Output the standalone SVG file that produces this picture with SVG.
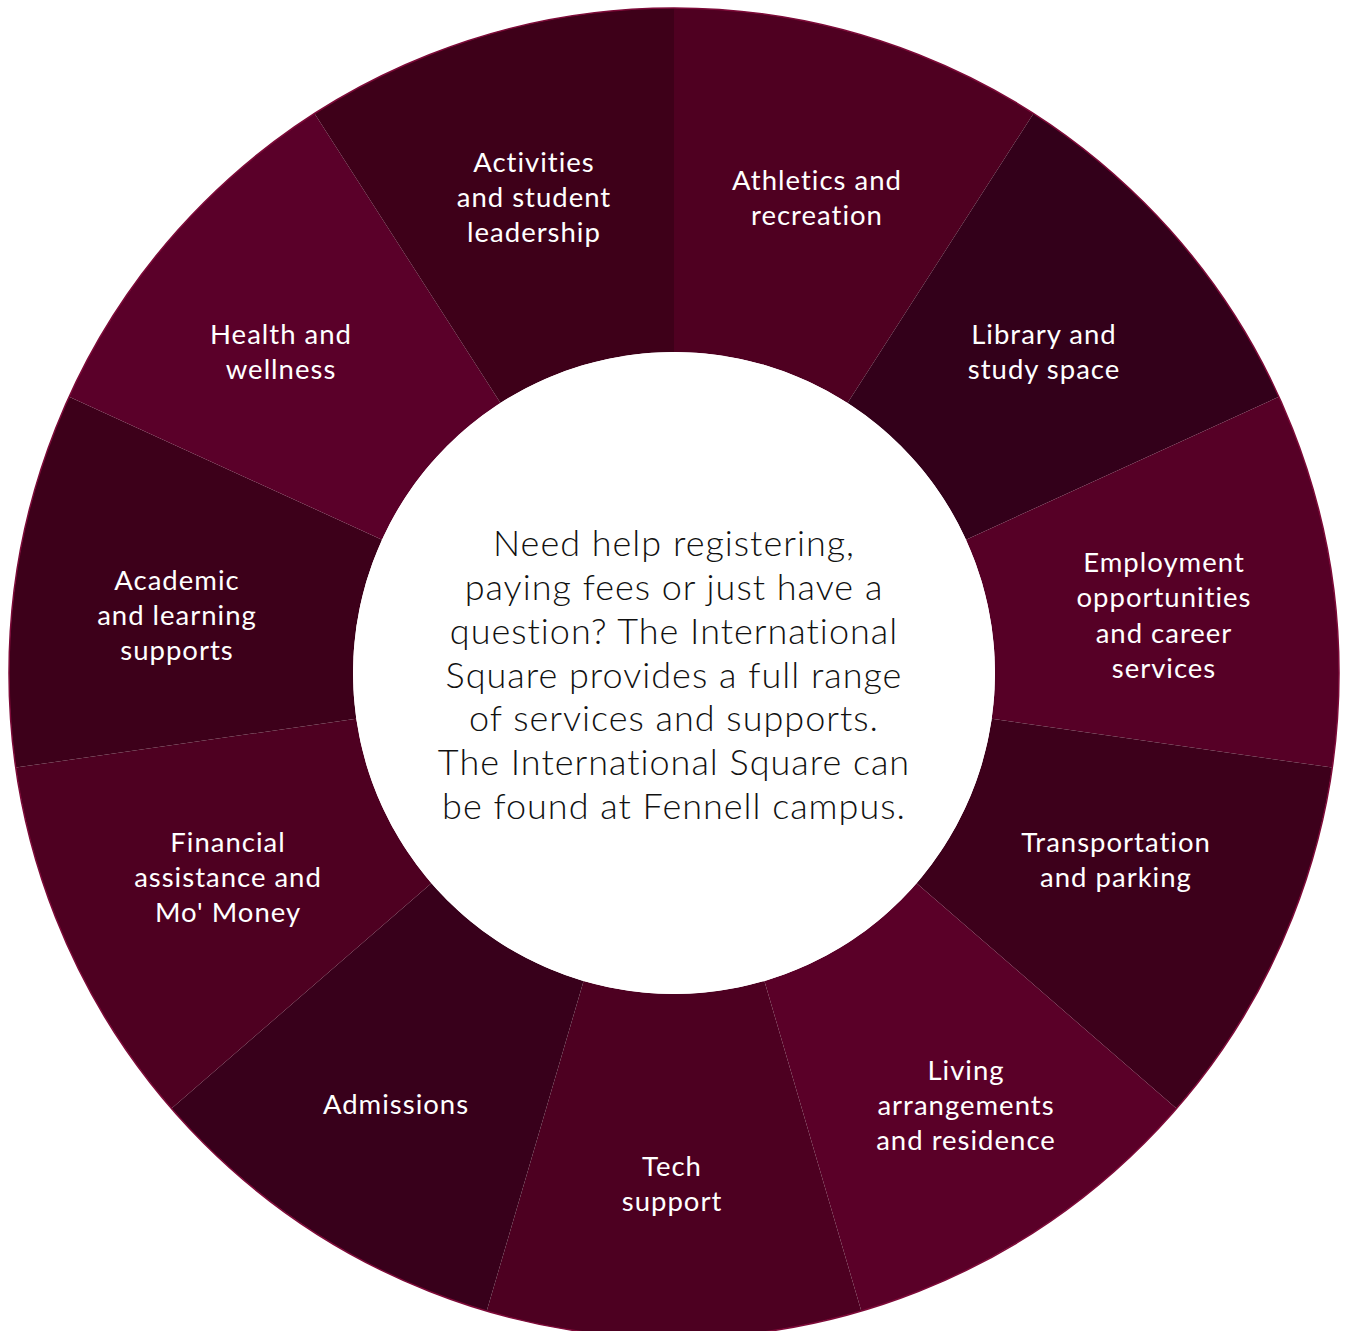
<svg xmlns="http://www.w3.org/2000/svg" width="1348" height="1331" viewBox="0 0 1348 1331">
<style>
.seg{stroke:none}
.lbl{font-family:Lato,"Open Sans","Liberation Sans",sans-serif;font-size:27.5px;letter-spacing:1px;fill:#ffffff;text-anchor:middle;font-variant-ligatures:none}
.ctr{font-family:Lato,"Open Sans","Liberation Sans",sans-serif;font-weight:300;font-size:36px;letter-spacing:1px;fill:#111111;text-anchor:middle;font-variant-ligatures:none}
</style>
<rect width="1348" height="1331" fill="#ffffff"/>
<g id="athletics">
<path class="seg" fill="#4f0021" d="M674,352 L674,8 A665,665 0 0 1 1033.5,113.5 L847.5,402.9 A321,321 0 0 0 674,352 Z"/>
<text class="lbl" x="817" y="190">Athletics and</text>
<text class="lbl" x="817" y="225">recreation</text>
</g>
<g id="library">
<path class="seg" fill="#33001a" d="M847.5,402.9 L1033.5,113.5 A665,665 0 0 1 1278.9,396.8 L966,539.7 A321,321 0 0 0 847.5,402.9 Z"/>
<text class="lbl" x="1044" y="344">Library and</text>
<text class="lbl" x="1044" y="379">study space</text>
</g>
<g id="employment">
<path class="seg" fill="#560026" d="M966,539.7 L1278.9,396.8 A665,665 0 0 1 1332.2,767.6 L991.7,718.7 A321,321 0 0 0 966,539.7 Z"/>
<text class="lbl" x="1164" y="572">Employment</text>
<text class="lbl" x="1164" y="607">opportunities</text>
<text class="lbl" x="1164" y="643">and career</text>
<text class="lbl" x="1164" y="678">services</text>
</g>
<g id="transportation">
<path class="seg" fill="#3d001b" d="M991.7,718.7 L1332.2,767.6 A665,665 0 0 1 1176.5,1108.5 L916.6,883.2 A321,321 0 0 0 991.7,718.7 Z"/>
<text class="lbl" x="1116" y="852">Transportation</text>
<text class="lbl" x="1116" y="887">and parking</text>
</g>
<g id="living">
<path class="seg" fill="#5a0028" d="M916.6,883.2 L1176.5,1108.5 A665,665 0 0 1 861.3,1311.1 L764.4,981 A321,321 0 0 0 916.6,883.2 Z"/>
<text class="lbl" x="966" y="1080">Living</text>
<text class="lbl" x="966" y="1115">arrangements</text>
<text class="lbl" x="966" y="1150">and residence</text>
</g>
<g id="tech">
<path class="seg" fill="#4d0021" d="M764.4,981 L861.3,1311.1 A665,665 0 0 1 486.7,1311.1 L583.6,981 A321,321 0 0 0 764.4,981 Z"/>
<text class="lbl" x="672" y="1176">Tech</text>
<text class="lbl" x="672" y="1211">support</text>
</g>
<g id="admissions">
<path class="seg" fill="#38001b" d="M583.6,981 L486.7,1311.1 A665,665 0 0 1 171.5,1108.5 L431.4,883.2 A321,321 0 0 0 583.6,981 Z"/>
<text class="lbl" x="396" y="1114">Admissions</text>
</g>
<g id="financial">
<path class="seg" fill="#4e0021" d="M431.4,883.2 L171.5,1108.5 A665,665 0 0 1 15.8,767.6 L356.3,718.7 A321,321 0 0 0 431.4,883.2 Z"/>
<text class="lbl" x="228" y="852">Financial</text>
<text class="lbl" x="228" y="887">assistance and</text>
<text class="lbl" x="228" y="922">Mo' Money</text>
</g>
<g id="academic">
<path class="seg" fill="#3d001a" d="M356.3,718.7 L15.8,767.6 A665,665 0 0 1 69.1,396.8 L382,539.7 A321,321 0 0 0 356.3,718.7 Z"/>
<text class="lbl" x="177" y="590">Academic</text>
<text class="lbl" x="177" y="625">and learning</text>
<text class="lbl" x="177" y="660">supports</text>
</g>
<g id="health">
<path class="seg" fill="#5a0029" d="M382,539.7 L69.1,396.8 A665,665 0 0 1 314.5,113.5 L500.5,402.9 A321,321 0 0 0 382,539.7 Z"/>
<text class="lbl" x="281" y="344">Health and</text>
<text class="lbl" x="281" y="379">wellness</text>
</g>
<g id="activities">
<path class="seg" fill="#3e0019" d="M500.5,402.9 L314.5,113.5 A665,665 0 0 1 674,8 L674,352 A321,321 0 0 0 500.5,402.9 Z"/>
<text class="lbl" x="534" y="172">Activities</text>
<text class="lbl" x="534" y="207">and student</text>
<text class="lbl" x="534" y="242">leadership</text>
</g>
<g id="connectors"></g>
<circle cx="674" cy="673" r="665" fill="none" stroke="#7d0a38" stroke-width="1.5"/>
<g id="center">
<circle cx="674" cy="673" r="321" fill="#ffffff"/>
<text class="ctr" x="674" y="556">Need help registering,</text>
<text class="ctr" x="674" y="600">paying fees or just have a</text>
<text class="ctr" x="674" y="644">question? The International</text>
<text class="ctr" x="674" y="688">Square provides a full range</text>
<text class="ctr" x="674" y="731">of services and supports.</text>
<text class="ctr" x="674" y="775">The International Square can</text>
<text class="ctr" x="674" y="819">be found at Fennell campus.</text>
</g>
</svg>
